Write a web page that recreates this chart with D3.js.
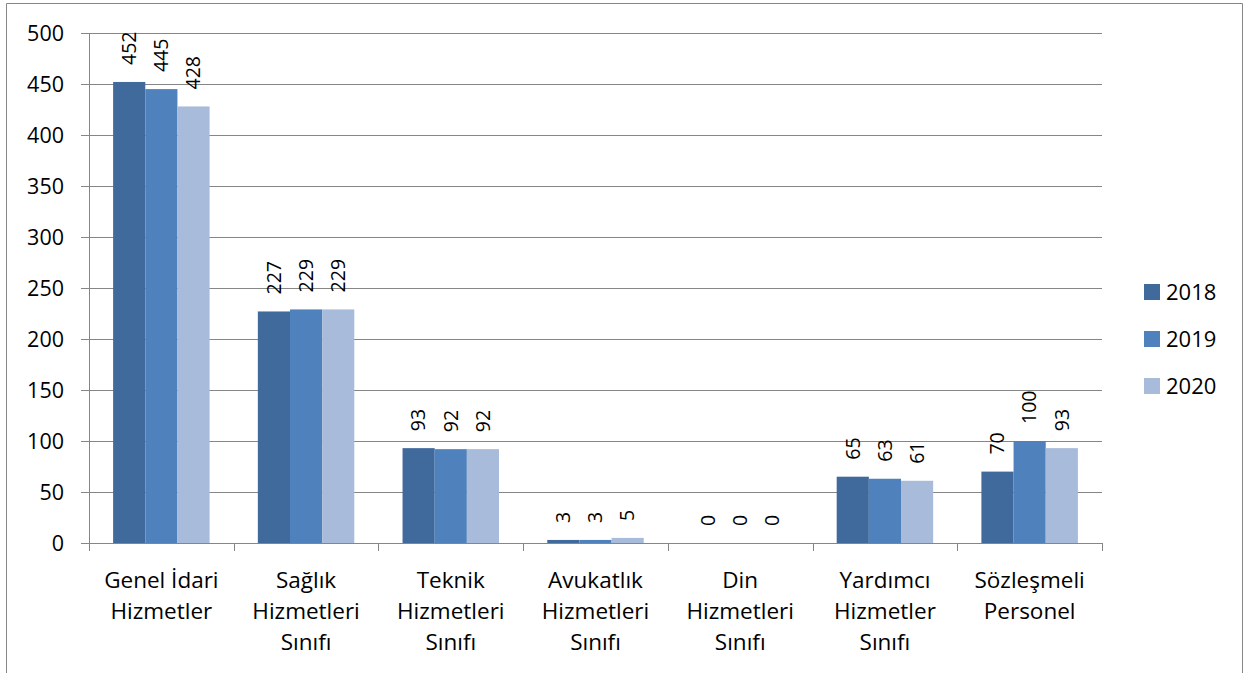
<!DOCTYPE html>
<html>
<head>
<meta charset="utf-8">
<script src="https://cdnjs.cloudflare.com/ajax/libs/d3/7.8.5/d3.min.js"></script>
<style>
  body { margin: 0; background: #fff; }
  text { font-family: "Open Sans", Lato, sans-serif; fill: #000; }
</style>
</head>
<body>
<svg id="chart" width="1247" height="673"></svg>
<script>
"use strict";

// kategoriler (satır satır)
var categories = [
  ["Genel İdari", "Hizmetler"],
  ["Sağlık", "Hizmetleri", "Sınıfı"],
  ["Teknik", "Hizmetleri", "Sınıfı"],
  ["Avukatlık", "Hizmetleri", "Sınıfı"],
  ["Din", "Hizmetleri", "Sınıfı"],
  ["Yardımcı", "Hizmetler", "Sınıfı"],
  ["Sözleşmeli", "Personel"]
];
var years = ["2018", "2019", "2020"];
var values2018 = [452, 227, 93, 3, 0, 65, 70];
var values2019 = [445, 229, 92, 3, 0, 63, 100];
var values2020 = [428, 229, 92, 5, 0, 61, 93];
var yTicks = [0, 50, 100, 150, 200, 250, 300, 350, 400, 450, 500];
var colors = ["#40699C", "#4F81BD", "#A9BBDA"];

var series = [values2018, values2019, values2020];

var svg = d3.select("#chart");

// cadre extérieur
svg.append("path")
  .attr("d", "M6.5,673 V3.5 H1242.5 V673")
  .attr("fill", "none")
  .attr("stroke", "#868686")
  .attr("stroke-width", 1);

var plotLeft = 89, plotRight = 1102, plotTop = 33, plotBottom = 543;

var y = d3.scaleLinear().domain([0, 500]).range([plotBottom, plotTop]);
var x = d3.scaleBand().domain(d3.range(categories.length)).range([plotLeft, plotRight]).paddingInner(0).paddingOuter(0);
var xs = d3.scaleBand().domain(d3.range(years.length))
  .range([x.bandwidth() / 6, x.bandwidth() * 5 / 6]);

// grille
svg.append("g").selectAll("line")
  .data(yTicks)
  .enter().append("line")
  .attr("x1", plotLeft - 8).attr("x2", plotRight)
  .attr("y1", function (d) { return Math.round(y(d)) + 0.5; })
  .attr("y2", function (d) { return Math.round(y(d)) + 0.5; })
  .attr("stroke", "#868686");

// y labels
svg.append("g").selectAll("text")
  .data(yTicks)
  .enter().append("text")
  .attr("x", 64)
  .attr("y", function (d) { return y(d); })
  .attr("dy", "0.35em")
  .attr("text-anchor", "end")
  .attr("font-size", 21.5)
  .text(function (d) { return d; });

// axe y
svg.append("line")
  .attr("x1", plotLeft + 0.5).attr("x2", plotLeft + 0.5)
  .attr("y1", plotTop).attr("y2", plotBottom)
  .attr("stroke", "#868686");

// barres
var groups = svg.append("g").selectAll("g")
  .data(series)
  .enter().append("g")
  .attr("fill", function (d, i) { return colors[i]; });

groups.each(function (vals, si) {
  var g = d3.select(this);
  g.selectAll("rect")
    .data(vals)
    .enter().append("rect")
    .attr("x", function (d, i) { return x(i) + xs(si); })
    .attr("width", xs.bandwidth())
    .attr("y", function (d) { return y(d); })
    .attr("height", function (d) { return plotBottom - y(d); });

  g.selectAll("text")
    .data(vals)
    .enter().append("text")
    .attr("transform", function (d, i) {
      var cx = x(i) + xs(si) + xs.bandwidth() / 2;
      return "translate(" + cx + "," + (y(d) - 17) + ") rotate(-90)";
    })
    .attr("dy", "0.35em")
    .attr("font-size", 19.5)
    .text(function (d) { return d; });
});

// axe x
svg.append("line")
  .attr("x1", plotLeft).attr("x2", plotRight)
  .attr("y1", plotBottom + 0.5).attr("y2", plotBottom + 0.5)
  .attr("stroke", "#868686");

svg.append("g").selectAll("line")
  .data(d3.range(categories.length + 1))
  .enter().append("line")
  .attr("x1", function (d) { return Math.round(plotLeft + d * x.step()) + 0.5; })
  .attr("x2", function (d) { return Math.round(plotLeft + d * x.step()) + 0.5; })
  .attr("y1", plotBottom).attr("y2", plotBottom + 8)
  .attr("stroke", "#868686");

// x labels
var xl = svg.append("g").selectAll("text")
  .data(categories)
  .enter().append("text")
  .attr("text-anchor", "middle")
  .attr("font-size", 22.5);

xl.selectAll("tspan")
  .data(function (d, i) { return d.map(function (t) { return { t: t, i: i }; }); })
  .enter().append("tspan")
  .attr("x", function (d) { return x(d.i) + x.bandwidth() / 2; })
  .attr("y", function (d, j) { return 588 + j * 31; })
  .text(function (d) { return d.t; });

// légende
var legend = svg.append("g").selectAll("g")
  .data(years)
  .enter().append("g")
  .attr("transform", function (d, i) { return "translate(1144," + (284 + i * 47) + ")"; });

legend.append("rect")
  .attr("width", 16).attr("height", 16)
  .attr("fill", function (d, i) { return colors[i]; });

legend.append("text")
  .attr("x", 22).attr("y", 8)
  .attr("dy", "0.35em")
  .attr("font-size", 22)
  .text(function (d) { return d; });
</script>
</body>
</html>
